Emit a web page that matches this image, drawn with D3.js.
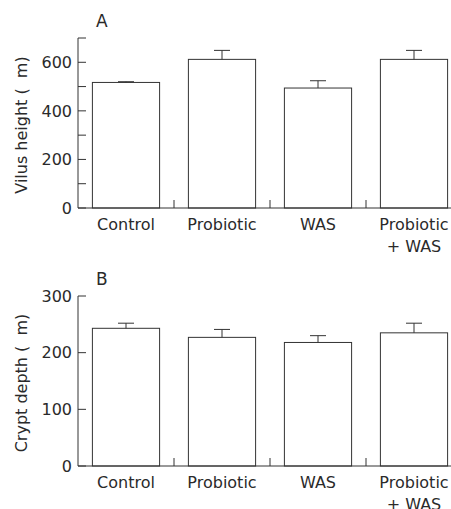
<!DOCTYPE html>
<html>
<head>
<meta charset="utf-8">
<script src="https://cdn.jsdelivr.net/npm/d3@7"></script>
<style>
  body { margin: 0; background: #fff; }
  svg { display: block; font-family: "DejaVu Sans", sans-serif; }
  .lbl { white-space: pre; }
</style>
</head>
<body>
<div id="chart"></div>
<script>
  const categories = ["Control", "Probiotic", "WAS", "Probiotic\n+ WAS"];

  const villusMean = [517, 612, 494, 612];
  const villusErr = [3, 37, 30, 37];
  const villusTicks = [0, 100, 200, 300, 400, 500, 600, 700];
  const villusLabels = [0, 200, 400, 600];

  const cryptMean = [243, 227, 218, 235];
  const cryptErr = [9, 14, 12, 17];
  const cryptTicks = [0, 100, 200, 300];
  const cryptLabels = [0, 100, 200, 300];

  const width = 451, height = 509;
  const svg = d3.select("#chart").append("svg")
    .attr("width", width)
    .attr("height", height);

  const x = d3.scaleBand()
    .domain(categories)
    .range([78, 462])
    .paddingInner(0.3)
    .paddingOuter(0.15);

  function drawPanel(top, ymax, means, errs, ticks, labels, letter, ylabel) {
    const h = 170;
    const y = d3.scaleLinear().domain([0, ymax]).range([top + h, top]);
    const g = svg.append("g");
    const stroke = "#333";
    const ink = "#2a2a2a";

    // y axis line
    g.append("line")
      .attr("x1", 78).attr("x2", 78)
      .attr("y1", y(0)).attr("y2", y(ymax))
      .attr("stroke", stroke);

    // inward ticks
    g.selectAll(".yt").data(ticks).join("line")
      .attr("x1", 78).attr("x2", 86)
      .attr("y1", d => y(d)).attr("y2", d => y(d))
      .attr("stroke", stroke);

    g.selectAll(".yl").data(labels).join("text")
      .attr("x", 72)
      .attr("y", d => y(d))
      .attr("dy", "0.36em")
      .attr("text-anchor", "end")
      .attr("font-size", 16)
      .attr("fill", ink)
      .text(d => d);

    // bars
    g.selectAll(".bar").data(means).join("rect")
      .attr("x", (d, i) => x(categories[i]))
      .attr("y", d => y(d))
      .attr("width", x.bandwidth())
      .attr("height", d => y(0) - y(d))
      .attr("fill", "#fff")
      .attr("stroke", stroke);

    // error bars
    const cx = i => x(categories[i]) + x.bandwidth() / 2;
    g.selectAll(".err").data(means).join("line")
      .attr("x1", (d, i) => cx(i)).attr("x2", (d, i) => cx(i))
      .attr("y1", d => y(d))
      .attr("y2", (d, i) => y(d + errs[i]))
      .attr("stroke", stroke);
    g.selectAll(".cap").data(means).join("line")
      .attr("x1", (d, i) => cx(i) - 8).attr("x2", (d, i) => cx(i) + 8)
      .attr("y1", (d, i) => y(d + errs[i]))
      .attr("y2", (d, i) => y(d + errs[i]))
      .attr("stroke", stroke);

    // x axis
    g.append("line")
      .attr("x1", 78).attr("x2", width)
      .attr("y1", y(0)).attr("y2", y(0))
      .attr("stroke", stroke);

    // separator ticks between groups
    g.selectAll(".sep").data(categories.slice(1)).join("line")
      .attr("x1", d => x(d) - x.step() * x.paddingInner() / 2)
      .attr("x2", d => x(d) - x.step() * x.paddingInner() / 2)
      .attr("y1", y(0)).attr("y2", y(0) - 8)
      .attr("stroke", stroke);

    // category labels
    const t = g.selectAll(".xl").data(categories).join("text")
      .attr("x", d => x(d) + x.bandwidth() / 2)
      .attr("y", y(0) + 22)
      .attr("text-anchor", "middle")
      .attr("font-size", 16)
      .attr("fill", ink);
    t.each(function (d) {
      const lines = d.split("\n");
      lines.forEach((s, k) => {
        d3.select(this).append("tspan")
          .attr("x", x(d) + x.bandwidth() / 2)
          .attr("dy", k === 0 ? 0 : 22)
          .text(s);
      });
    });

    // panel letter
    g.append("text")
      .attr("x", 96)
      .attr("y", top - 11)
      .attr("font-size", 17)
      .attr("fill", ink)
      .text(letter);

    // y label
    g.append("text")
      .attr("class", "lbl")
      .attr("transform", "rotate(-90)")
      .attr("x", -(top + h / 2 + 2))
      .attr("y", 27)
      .attr("text-anchor", "middle")
      .attr("font-size", 16)
      .attr("fill", ink)
      .text(ylabel);
  }

  drawPanel(38, 700, villusMean, villusErr, villusTicks, villusLabels, "A", "Vilus height (  m)");
  drawPanel(296, 300, cryptMean, cryptErr, cryptTicks, cryptLabels, "B", "Crypt depth (  m)");
</script>
</body>
</html>
